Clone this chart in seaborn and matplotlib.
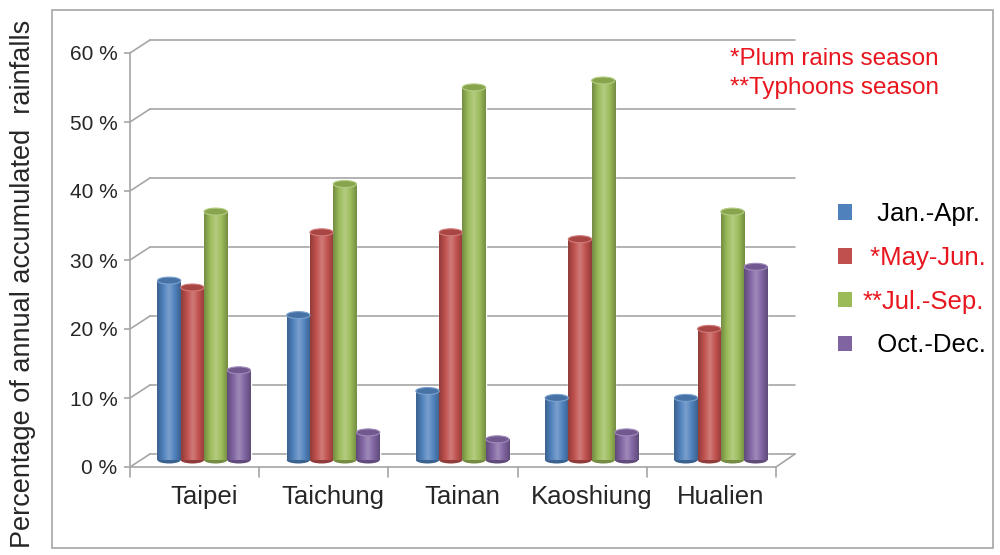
import numpy as np
import pandas as pd
import matplotlib.pyplot as plt
import seaborn as sns
from matplotlib.colors import LinearSegmentedColormap, to_rgb
from matplotlib.patches import Ellipse, Patch, Rectangle


cities = ["Taipei", "Taichung", "Tainan", "Kaoshiung", "Hualien"]
seasons = ["Jan.-Apr.", "*May-Jun.", "**Jul.-Sep.", "Oct.-Dec."]
jan_apr = [26, 21, 10, 9, 9]
may_jun = [25, 33, 33, 32, 19]
jul_sep = [36, 40, 54, 55, 36]
oct_dec = [13, 4, 3, 4, 28]
y_ticks = [0, 10, 20, 30, 40, 50, 60]
notes = ["*Plum rains season", "**Typhoons season"]

colors = ["#4F81BD", "#C0504D", "#9BBB59", "#8064A2"]
label_colors = ["black", "#E8161E", "#E8161E", "black"]
RED = "#E8161E"
GRID = "#A6A6A6"

df = pd.DataFrame({
    "city": cities * 4,
    "season": np.repeat(seasons, len(cities)),
    "value": jan_apr + may_jun + jul_sep + oct_dec,
})

sns.set_style("white")
plt.rcParams["font.family"] = ["Liberation Sans", "DejaVu Sans"]

fig = plt.figure(figsize=(10, 5.55), dpi=100)
ax = fig.add_axes([0.13, 1 - 467 / 555, 0.67, 426 / 555])

sns.barplot(
    data=df, x="city", y="value", hue="season", hue_order=seasons,
    palette=colors, width=0.72, gap=0, saturation=1, legend=False,
    ax=ax, zorder=2,
)

# --- pseudo 3D geometry (px -> data) ---
px_x = 1 / 129.2          # category units per pixel
px_y = 1 / 6.9            # percent per pixel
x_front = -74 * px_x      # front axis position
x_back = x_front + 20 * px_x
front_dy = -7 * px_y      # front edge lies below bar base
back_dy = 6 * px_y        # back wall lies above bar base
x_right_front = x_front + 5
x_right_back = x_right_front + 19 * px_x

# back wall gridlines and diagonal connectors
for v in y_ticks:
    ax.plot([x_back, x_right_back], [v + back_dy, v + back_dy],
            color=GRID, lw=1.2, zorder=0, clip_on=False)
    ax.plot([x_front, x_back], [v + front_dy, v + back_dy],
            color=GRID, lw=1.2, zorder=0, clip_on=False)

# front axis, floor edges and category dividers
ax.plot([x_front, x_front], [front_dy, 60 + front_dy], color=GRID, lw=1.2, clip_on=False)
ax.plot([x_front, x_right_front], [front_dy, front_dy], color=GRID, lw=1.2, clip_on=False)
ax.plot([x_right_front, x_right_back], [front_dy, back_dy], color=GRID, lw=1.2, clip_on=False)
for k in range(len(cities) + 1):
    ax.plot([x_front + k, x_front + k], [front_dy, front_dy - 10 * px_y],
            color=GRID, lw=1.2, clip_on=False)

# cylinder shading on each bar
bars = [p for p in ax.patches if isinstance(p, Rectangle)]
for bar in bars:
    x0, w, h = bar.get_x(), bar.get_width(), bar.get_height()
    c = np.array(to_rgb(bar.get_facecolor()))
    dark = c * 0.75
    light = c + (1 - c) * 0.25
    cmap = LinearSegmentedColormap.from_list("cyl", [dark, c, light, c, dark])
    grad = np.linspace(0, 1, 64).reshape(1, -1)
    ax.imshow(grad, cmap=cmap, extent=[x0, x0 + w, 0, h], aspect="auto",
              zorder=2.2, interpolation="bicubic")
    ax.add_patch(Ellipse((x0 + w / 2, 0), w, 7 * px_y, facecolor=dark,
                         edgecolor="none", zorder=2.1))
    ax.add_patch(Ellipse((x0 + w / 2, h), w, 7 * px_y, facecolor=c * 0.88,
                         edgecolor=light, lw=0.8, zorder=2.3))

ax.set_xlim(x_front, x_front + 670 * px_x)
ax.set_ylim(front_dy, 419 * px_y)

ax.set_yticks([v + front_dy for v in y_ticks])
ax.set_yticklabels([f"{v} %" for v in y_ticks], fontsize=15)
ax.tick_params(axis="y", length=4, color=GRID, width=1.2, pad=5, left=True)
ax.tick_params(axis="x", length=0, pad=13, labelsize=18.5)
ax.set_xlabel("")
ax.set_ylabel("")
for s in ax.spines.values():
    s.set_visible(False)

# outer chart border
fig.patches.append(Rectangle((52 / 1000, 1 - 548 / 555), 941 / 1000, 538 / 555,
                             transform=fig.transFigure, fill=False,
                             edgecolor="#A6A6A6", lw=1.2))

fig.text(0.023, 1 - 284 / 555, "Percentage of annual accumulated  rainfalls",
         rotation=90, ha="center", va="center", fontsize=19.5)

fig.text(0.730, 1 - 59 / 555, notes[0], color=RED, fontsize=17.5, va="center")
fig.text(0.730, 1 - 88 / 555, notes[1], color=RED, fontsize=17.5, va="center")

handles = [Patch(facecolor=c, edgecolor="none") for c in colors]
labels = ["  Jan.-Apr.", " *May-Jun.", "**Jul.-Sep.", "  Oct.-Dec."]
leg = fig.legend(handles, labels, loc="upper left", bbox_to_anchor=(0.833, 1 - 197 / 555),
                 frameon=False, fontsize=18.5, handlelength=0.55, handleheight=0.55,
                 handletextpad=0.4, labelspacing=0.77, borderpad=0.2, borderaxespad=0)
for txt, col in zip(leg.get_texts(), label_colors):
    txt.set_color(col)

fig.savefig("out.png", dpi=100)
